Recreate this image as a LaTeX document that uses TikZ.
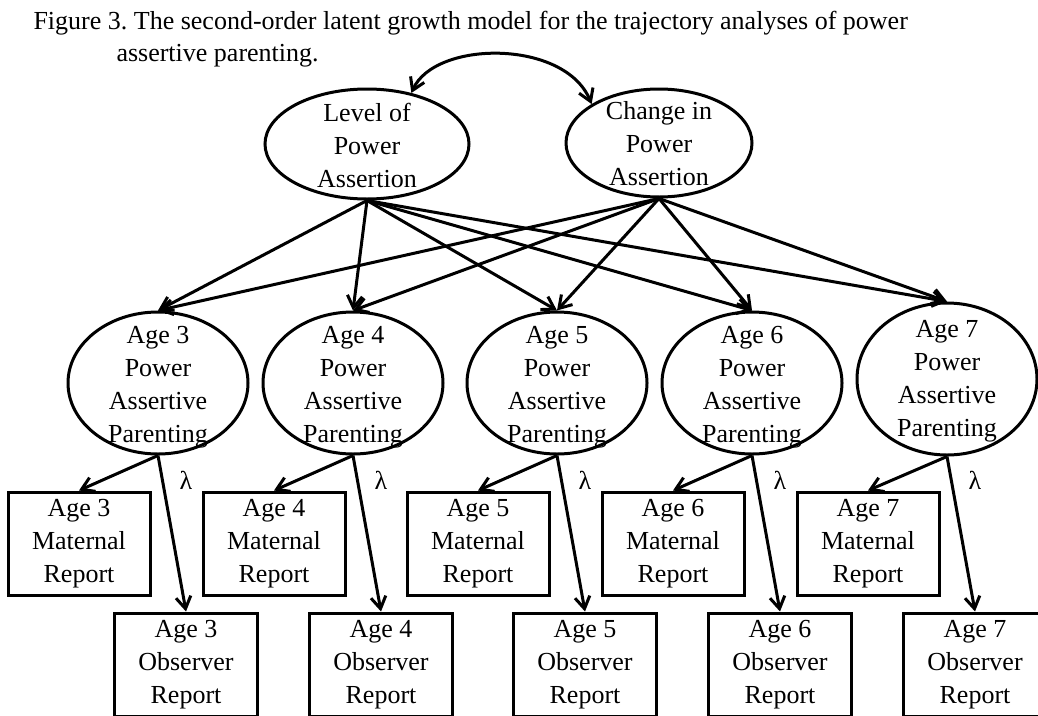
\documentclass[tikz,border=0pt]{standalone}
\usepackage{fontspec}
\setmainfont{Liberation Serif}
\usetikzlibrary{arrows.meta,shapes.geometric}
\frenchspacing

\begin{document}
\begin{tikzpicture}[x=1pt,y=-1pt,line width=3pt,
    >={Straight Barb[length=12pt,width=15pt]},
    font=\fontsize{26}{33}\selectfont,
    lat/.style={draw,ellipse,inner sep=0pt},
    ind/.style={draw,rectangle,inner sep=0pt,minimum width=142pt,minimum height=103pt,align=center},
    txt/.style={align=center,inner sep=0pt}]
  \useasboundingbox (0,0) rectangle (1038,715);
  \clip (0,0) rectangle (1038,715);
  % caption
  \node[anchor=base west,inner sep=0pt] (cap1) at (32,29) {Figure 3. The second-order latent growth model for the trajectory analyses of power};
  \node[anchor=base west,inner sep=0pt] (cap2) at (115,61) {assertive parenting.};
  % second-order factors
  \node[lat,minimum width=204pt,minimum height=110pt] (lvl) at (367,144) {};
  \node[txt] (lvlt) at (367,145) {Level of\\Power\\Assertion};
  \node[lat,minimum width=186pt,minimum height=108pt] (chg) at (659,143) {};
  \node[txt] (chgt) at (659,144) {Change in\\Power\\Assertion};
  \draw[<->] (lvl.49) .. controls (435,40) and (565,39) .. (chg.150);
  % first-order factors with their two reports
  \foreach \a/\x/\cy/\h/\ty in {3/158/383/142/387,4/353/383/142/387,5/557/383/142/387,6/752/383/142/387,7/947/379/152/381}{
    \node[lat,minimum width=180pt,minimum height=\h] (pa\a) at (\x,\cy) {};
    \node[txt] (pat\a) at (\x,\ty) {Age \a\\Power\\Assertive\\Parenting};
    \node[ind] (mr\a) at (\x-79,543.5) {Age \a\\Maternal\\Report};
    \node[ind,minimum width=143pt] (or\a) at (\x+28,664.5) {Age \a\\Observer\\Report};
    \node (lam\a) at (\x+28,480) {λ};
    \draw[->] (lvl.south) -- (pa\a.north);
    \draw[->] (chg.south) -- (pa\a.north);
    \draw[->] (pa\a.south) -- (mr\a.north);
    \draw[->] (pa\a.south) -- (or\a.north);
  }
\end{tikzpicture}
\end{document}
